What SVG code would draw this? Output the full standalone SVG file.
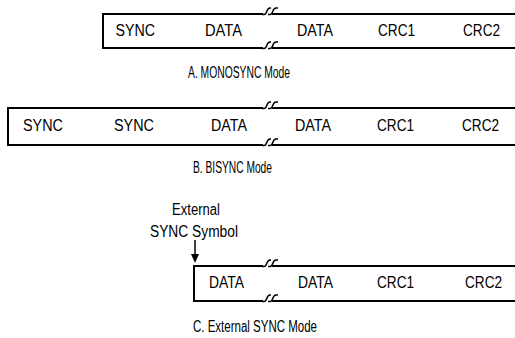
<svg xmlns="http://www.w3.org/2000/svg" width="515" height="338" viewBox="0 0 515 338">
<defs>
<style>
.t{font-family:"Liberation Sans",Arial,sans-serif;font-size:16px;fill:#000}
.ln{stroke:#000;stroke-width:2;fill:none}
.sq{stroke:#000;stroke-width:1.5;fill:none}
</style>
<path id="brk" class="sq" d="M-1,0.5 H1 C4.5,0.5 3,-6 7,-6 H8 M5,0.5 H7 C10.5,0.5 9,-6 13,-6 H15"/>
</defs>
<rect width="515" height="338" fill="#fff"/>

<g id="connectors">
<!-- A frame -->
<path class="ln" d="M263,14 H103 V48 H263 M272,14 H515 M272,48 H515"/>
<!-- B frame -->
<path class="ln" d="M263,108 H8 V145 H263 M272,108 H515 M272,145 H515"/>
<!-- C frame -->
<path class="ln" d="M263,266 H194 V301 H263 M272,266 H515 M272,301 H515"/>
<!-- arrow -->
<line x1="195" y1="240" x2="195" y2="256" stroke="#000" stroke-width="1.5"/>
<polygon points="191,254 199,254 195,263" fill="#000"/>
</g>

<g id="breaks">
<use href="#brk" x="263" y="14"/>
<use href="#brk" x="263" y="48"/>
<use href="#brk" x="263" y="108"/>
<use href="#brk" x="263" y="145"/>
<use href="#brk" x="263" y="266"/>
<use href="#brk" x="263" y="301"/>
</g>

<g id="modeA">
<text class="t" x="115.5" y="36" textLength="39.5" lengthAdjust="spacingAndGlyphs">SYNC</text>
<text class="t" x="205" y="36" textLength="37" lengthAdjust="spacingAndGlyphs">DATA</text>
<text class="t" x="297" y="36" textLength="36" lengthAdjust="spacingAndGlyphs">DATA</text>
<text class="t" x="378" y="36" textLength="37" lengthAdjust="spacingAndGlyphs">CRC1</text>
<text class="t" x="463" y="36" textLength="37" lengthAdjust="spacingAndGlyphs">CRC2</text>
<text class="t" x="188" y="78" textLength="102" lengthAdjust="spacingAndGlyphs">A. MONOSYNC Mode</text>
</g>

<g id="modeB">
<text class="t" x="23" y="131" textLength="40" lengthAdjust="spacingAndGlyphs">SYNC</text>
<text class="t" x="114" y="131" textLength="40" lengthAdjust="spacingAndGlyphs">SYNC</text>
<text class="t" x="211" y="131" textLength="36" lengthAdjust="spacingAndGlyphs">DATA</text>
<text class="t" x="295" y="131" textLength="36" lengthAdjust="spacingAndGlyphs">DATA</text>
<text class="t" x="377" y="131" textLength="37" lengthAdjust="spacingAndGlyphs">CRC1</text>
<text class="t" x="462" y="131" textLength="37" lengthAdjust="spacingAndGlyphs">CRC2</text>
<text class="t" x="193" y="173" textLength="79" lengthAdjust="spacingAndGlyphs">B. BISYNC Mode</text>
</g>

<g id="modeC">
<text class="t" x="172" y="215" textLength="48" lengthAdjust="spacingAndGlyphs">External</text>
<text class="t" x="150" y="237" textLength="88" lengthAdjust="spacingAndGlyphs">SYNC Symbol</text>
<text class="t" x="209" y="288" textLength="35" lengthAdjust="spacingAndGlyphs">DATA</text>
<text class="t" x="298" y="288" textLength="35" lengthAdjust="spacingAndGlyphs">DATA</text>
<text class="t" x="377" y="288" textLength="37" lengthAdjust="spacingAndGlyphs">CRC1</text>
<text class="t" x="465" y="288" textLength="37" lengthAdjust="spacingAndGlyphs">CRC2</text>
<text class="t" x="193" y="332" textLength="124" lengthAdjust="spacingAndGlyphs">C. External SYNC Mode</text>
</g>
</svg>
